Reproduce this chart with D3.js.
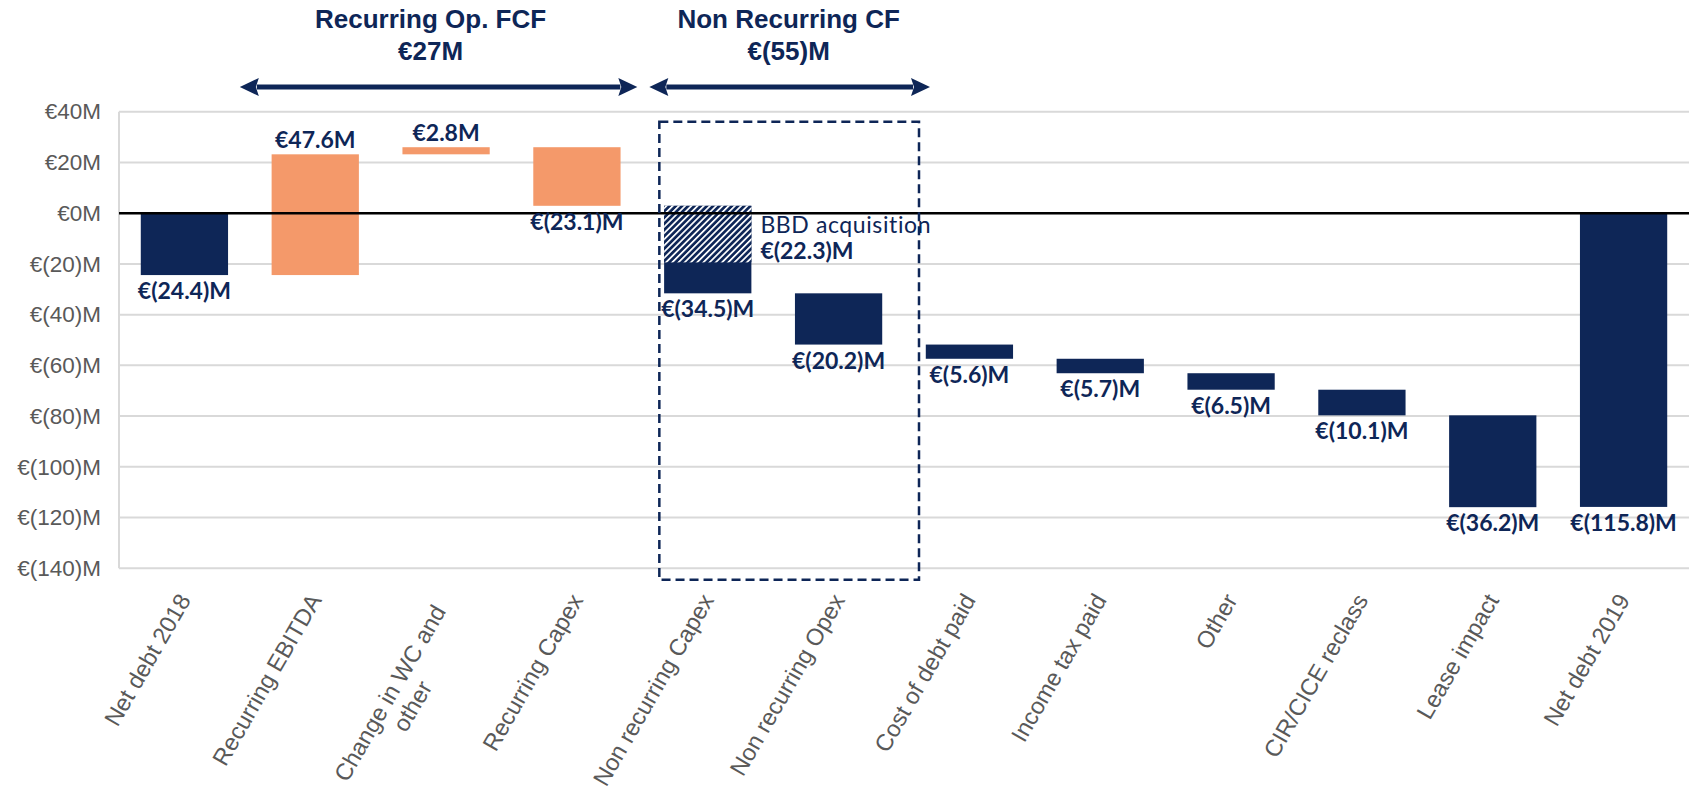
<!DOCTYPE html>
<html>
<head>
<meta charset="utf-8">
<script src="https://cdn.jsdelivr.net/npm/d3@7"></script>
<style>
  html, body { margin: 0; padding: 0; background: #ffffff; }
  svg { display: block; }
</style>
</head>
<body>
<svg id="chart" width="1698" height="789"></svg>
<script>
// ---------------- DATA ----------------
const categories = [
  "Net debt 2018", "Recurring EBITDA", "Change in WC and\nother", "Recurring Capex",
  "Non recurring Capex", "Non recurring Opex", "Cost of debt paid", "Income tax paid",
  "Other", "CIR/CICE reclass", "Lease impact", "Net debt 2019"
];
const values = [-24.4, 47.6, 2.8, -23.1, -34.5, -20.2, -5.6, -5.7, -6.5, -10.1, -36.2, -115.8];
const barKinds = ["total", "recurring", "recurring", "recurring", "delta", "delta",
                  "delta", "delta", "delta", "delta", "delta", "total"];
const bbdLabel = "BBD acquisition";
const bbdValue = -22.3;          // hatched part of "Non recurring Capex"
const bbdCategory = "Non recurring Capex";
const yTickValues = [40, 20, 0, -20, -40, -60, -80, -100, -120, -140];
const groupTitles = ["Recurring Op. FCF", "Non Recurring CF"];
const groupTotals = ["€27M", "€(55)M"];
const groupFirst = ["Recurring EBITDA", "Non recurring Capex"];
const groupLast = ["Recurring Capex", "Non recurring Opex"];

// ---------------- LAYOUT ----------------
const W = 1698, H = 789;
const plot = { left: 119, right: 1689, top: 111.7, bottom: 568.3 };
const NAVY = "#0E2657", ORANGE = "#F4996A", GRID = "#D9D9D9", AXISTXT = "#595959";

const svg = d3.select("#chart");
svg.append("rect").attr("width", W).attr("height", H).attr("fill", "#fff");

const x = d3.scaleBand().domain(categories).range([plot.left, plot.right]).paddingInner(0.333).paddingOuter(0.1665);
const y = d3.scaleLinear().domain([-140, 40]).range([plot.bottom, plot.top]);

const fmtVal = v => v < 0 ? `€(${Math.abs(v).toFixed(1)})M` : `€${v.toFixed(1)}M`;
const fmtTick = v => v < 0 ? `€(${Math.abs(v)})M` : `€${v}M`;

// hatch pattern
const defs = svg.append("defs");
const pat = defs.append("pattern").attr("id", "hatch").attr("patternUnits", "userSpaceOnUse")
  .attr("width", 4.4).attr("height", 4.4).attr("patternTransform", "rotate(45)");
pat.append("rect").attr("width", 4.4).attr("height", 4.4).attr("fill", NAVY);
pat.append("rect").attr("x", 0).attr("width", 1.7).attr("height", 4.4).attr("fill", "#ffffff");

// gridlines
svg.append("g").selectAll("line").data(yTickValues).join("line")
  .attr("x1", plot.left).attr("x2", plot.right)
  .attr("y1", d => y(d)).attr("y2", d => y(d))
  .attr("stroke", GRID).attr("stroke-width", 2);
// left axis line
svg.append("line").attr("x1", plot.left).attr("x2", plot.left)
  .attr("y1", y(40)).attr("y2", y(-140)).attr("stroke", GRID).attr("stroke-width", 2);

// y axis
const yAxis = d3.axisLeft(y).tickValues(yTickValues).tickFormat(fmtTick).tickSize(0).tickPadding(18);
const yg = svg.append("g").attr("transform", `translate(${plot.left},0)`).call(yAxis);
yg.select(".domain").remove();
yg.selectAll("text").attr("fill", AXISTXT).style("font-family", "Liberation Sans, Arial, sans-serif")
  .style("font-size", "22.5px");

// waterfall computation
let running = 0;
const bars = categories.map((c, i) => {
  const v = values[i];
  let start, end;
  if (barKinds[i] === "total") { start = 0; end = v; running = v; }
  else { start = running; end = running + v; running = end; }
  return { cat: c, v, start, end, kind: barKinds[i] };
});

// bars
svg.append("g").selectAll("rect").data(bars).join("rect")
  .attr("x", d => x(d.cat)).attr("width", x.bandwidth())
  .attr("y", d => y(Math.max(d.start, d.end)))
  .attr("height", d => Math.abs(y(d.start) - y(d.end)))
  .attr("fill", d => d.kind === "recurring" ? ORANGE : NAVY);

// BBD hatched part
const bbdBar = bars.find(b => b.cat === bbdCategory);
svg.append("rect")
  .attr("x", x(bbdCategory)).attr("width", x.bandwidth())
  .attr("y", y(bbdBar.start)).attr("height", y(bbdBar.start + bbdValue) - y(bbdBar.start))
  .attr("fill", "url(#hatch)");

// zero line
svg.append("line").attr("x1", plot.left).attr("x2", plot.right)
  .attr("y1", y(0)).attr("y2", y(0)).attr("stroke", "#000").attr("stroke-width", 2.5);

// value labels
const valFont = "Lato, 'Open Sans', sans-serif";
svg.append("g").selectAll("text").data(bars).join("text")
  .attr("x", d => x(d.cat) + x.bandwidth() / 2)
  .attr("y", d => d.v >= 0 ? y(Math.max(d.start, d.end)) - 6 : y(Math.min(d.start, d.end)) + 24)
  .attr("text-anchor", "middle")
  .attr("fill", NAVY).style("font-family", valFont).style("font-weight", 700).style("font-size", "23px")
  .text(d => fmtVal(d.v));

// BBD label
const bbdX = x(bbdCategory) + x.bandwidth() + 9;
svg.append("text").attr("x", bbdX).attr("y", y(0) + 20)
  .attr("fill", NAVY).style("font-family", valFont).style("font-weight", 400).style("font-size", "23px")
  .style("letter-spacing", "0.6px")
  .text(bbdLabel);
svg.append("text").attr("x", bbdX).attr("y", y(0) + 46)
  .attr("fill", NAVY).style("font-family", valFont).style("font-weight", 700).style("font-size", "23px")
  .text(fmtVal(bbdValue));

// dashed box around non-recurring
const boxL = x(groupFirst[1]) - x.step() * x.paddingInner() / 2 + 17;
const boxR = x(groupLast[1]) + x.bandwidth() + x.step() * x.paddingInner() / 2 + 15;
svg.append("rect").attr("x", boxL).attr("y", y(36)).attr("width", boxR - boxL)
  .attr("height", y(-144.5) - y(36))
  .attr("fill", "none").attr("stroke", NAVY).attr("stroke-width", 2.5).attr("stroke-dasharray", "9,5");

// x labels
const xFont = "Liberation Sans, Arial, sans-serif";
const xSize = "23.5px";
categories.forEach(c => {
  const cx = x(c) + x.bandwidth() / 2;
  const g = svg.append("g").attr("transform", `translate(${cx + 7},600) rotate(-60)`);
  const lines = c.split("\n");
  if (lines.length === 1) {
    g.append("text").attr("text-anchor", "end").attr("fill", AXISTXT)
      .style("font-family", xFont).style("font-size", xSize).text(c);
  } else {
    const t1 = g.append("text").attr("x", -13).attr("text-anchor", "end").attr("fill", AXISTXT)
      .style("font-family", xFont).style("font-size", xSize).text(lines[0]);
    const L1 = t1.node().getComputedTextLength();
    g.append("text").attr("x", -13 - L1 / 2).attr("y", 26).attr("text-anchor", "middle").attr("fill", AXISTXT)
      .style("font-family", xFont).style("font-size", xSize).text(lines[1]);
  }
});

// group arrows + titles
const arrowY = 87;
const arrowDefs = [
  { l: x(groupFirst[0]) - x.step() * x.paddingInner() / 2 - 10, r: x(groupLast[0]) + x.bandwidth() + x.step() * x.paddingInner() / 2 - 5, tdx: -8 },
  { l: x(groupFirst[1]) - x.step() * x.paddingInner() / 2 + 7, r: x(groupLast[1]) + x.bandwidth() + x.step() * x.paddingInner() / 2 + 26, tdx: -1 }
];
const headL = 19, headH = 9;
arrowDefs.forEach((a, i) => {
  const g = svg.append("g");
  g.append("line").attr("x1", a.l + headL - 2).attr("x2", a.r - headL + 2)
    .attr("y1", arrowY).attr("y2", arrowY).attr("stroke", NAVY).attr("stroke-width", 5);
  g.append("path").attr("d", `M${a.l},${arrowY} L${a.l + headL},${arrowY - headH} L${a.l + headL - 3},${arrowY} L${a.l + headL},${arrowY + headH} Z`).attr("fill", NAVY);
  g.append("path").attr("d", `M${a.r},${arrowY} L${a.r - headL},${arrowY - headH} L${a.r - headL + 3},${arrowY} L${a.r - headL},${arrowY + headH} Z`).attr("fill", NAVY);
  const tx = (a.l + a.r) / 2 + a.tdx;
  g.append("text").attr("x", tx).attr("y", 28).attr("text-anchor", "middle").attr("fill", NAVY)
    .style("font-family", xFont).style("font-weight", 700).style("font-size", "26px").text(groupTitles[i]);
  g.append("text").attr("x", tx).attr("y", 60).attr("text-anchor", "middle").attr("fill", NAVY)
    .style("font-family", xFont).style("font-weight", 700).style("font-size", "26px").text(groupTotals[i]);
});
</script>
</body>
</html>
